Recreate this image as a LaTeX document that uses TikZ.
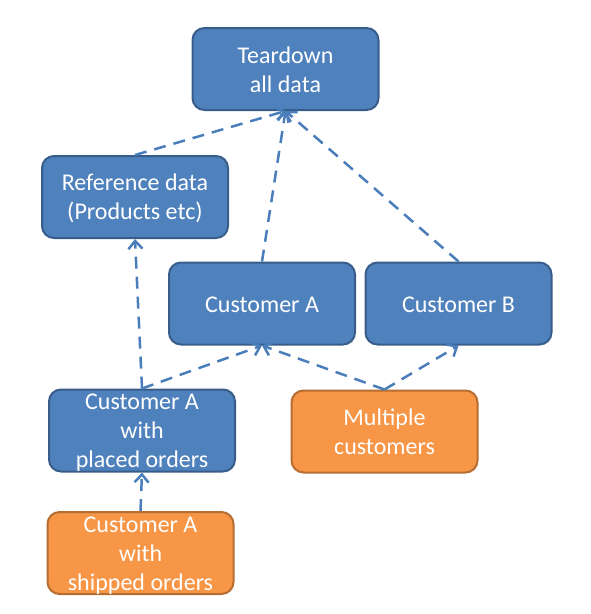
\documentclass[tikz,border=0pt]{standalone}
\usepackage{fontspec}
\setmainfont{Carlito}
\usetikzlibrary{arrows.meta}
\definecolor{bfill}{HTML}{4F81BD}
\definecolor{bdraw}{HTML}{385D8A}
\definecolor{ofill}{HTML}{F79646}
\definecolor{odraw}{HTML}{B66D31}
\definecolor{conn}{HTML}{4A7EBB}
\newcommand{\ts}{\rule[-3pt]{0pt}{23pt}}
\tikzset{
  box/.style={rectangle, rounded corners=12pt, line width=2pt, minimum width=186pt, minimum height=82pt,
    inner xsep=2pt, inner ysep=0pt, align=center, text=white, font=\fontsize{24}{29}\selectfont},
  bluebox/.style={box, fill=bfill, draw=bdraw},
  orangebox/.style={box, fill=ofill, draw=odraw},
  link/.style={draw=conn, line width=2.5pt, dash pattern=on 12pt off 8pt,
    -{Straight Barb[length=8pt,width=14pt,line width=2.5pt]}}
}
\begin{document}
\begin{tikzpicture}[x=1pt,y=-1pt]
\useasboundingbox (0,0) rectangle (591,614);
\node[bluebox] (td) at (285.5,69) {\ts Teardown\\all data\ts};
\node[bluebox] (ref) at (135,197) {\ts Reference data\\(Products etc)\ts};
\node[bluebox] (ca) at (262,303.5) {\ts Customer A\ts};
\node[bluebox] (cb) at (458.5,303.5) {\ts Customer B\ts};
\node[bluebox] (po) at (142,430.5) {\ts Customer A\\with\\placed orders\ts};
\node[orangebox] (mc) at (384.5,431.5) {\ts Multiple\\customers\ts};
\node[orangebox] (so) at (140.5,553) {\ts Customer A\\with\\shipped orders\ts};
\draw[link] (ref.north) -- (td.south);
\draw[link] (ca.north) -- (td.south);
\draw[link] (cb.north) -- (td.south);
\draw[link] (po.north) -- (ref.south);
\draw[link] (po.north) -- (ca.south);
\draw[link] (mc.north) -- (ca.south);
\draw[link] (mc.north) -- (cb.south);
\draw[link] (so.north) -- (po.south);
\end{tikzpicture}
\end{document}
